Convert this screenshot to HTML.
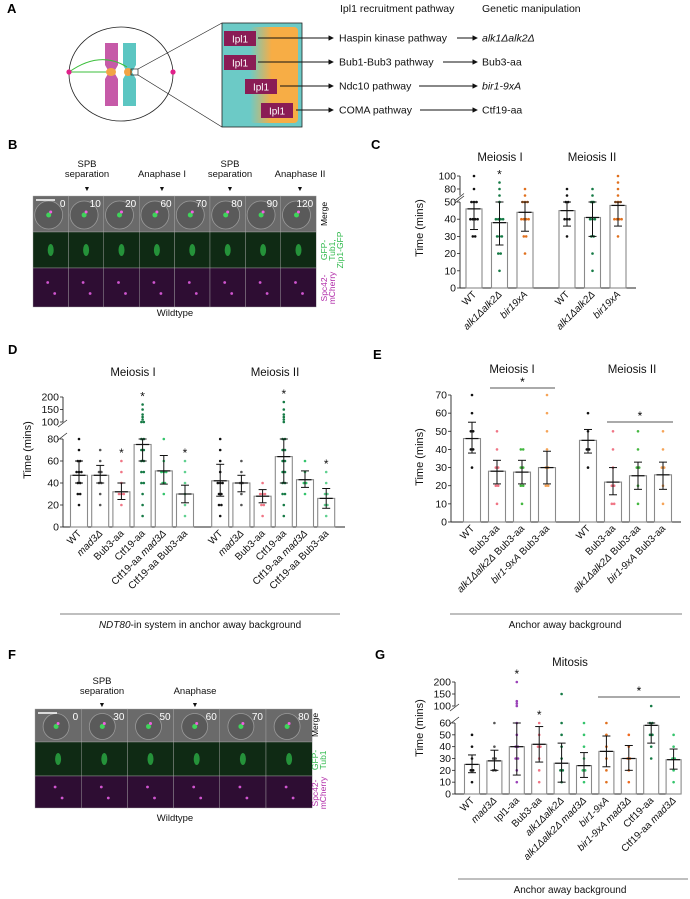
<!DOCTYPE html>
<html><head><meta charset="utf-8">
<style>
html,body{margin:0;padding:0;background:#fff;}
svg{display:block;font-family:"Liberation Sans",sans-serif;}
</style></head>
<body>
<svg id="fig" width="690" height="899" viewBox="0 0 690 899" xmlns="http://www.w3.org/2000/svg">
<defs>
<marker id="ah" markerWidth="6" markerHeight="6" refX="5" refY="3" orient="auto"><path d="M0,0 L6,3 L0,6 z" fill="#111"/></marker>
<linearGradient id="og" x1="0" x2="1"><stop offset="0" stop-color="#f7ad45" stop-opacity="0"/><stop offset="0.45" stop-color="#f7ad45"/><stop offset="1" stop-color="#f7ad45"/></linearGradient>
</defs>
<!-- Panel A -->
<g>
<text x="7" y="13" font-size="13" font-weight="bold">A</text>
<ellipse cx="121" cy="74" rx="52" ry="47" fill="none" stroke="#222" stroke-width="0.8"/>
<path d="M105,43 h13 v22 l-4,7 l4,7 v27 h-13 v-27 l4,-7 l-4,-7z" fill="#c65aa8"/>
<path d="M123,43 h13 v22 l-4,7 l4,7 v27 h-13 v-27 l4,-7 l-4,-7z" fill="#5cc6c2"/>
<path d="M69,72 Q100,50 127,67" fill="none" stroke="#3bbf3b" stroke-width="1"/>
<line x1="69" y1="72" x2="108" y2="72" stroke="#3bbf3b" stroke-width="1"/>
<ellipse cx="111" cy="72" rx="5" ry="4" fill="#f2a445"/><ellipse cx="128" cy="72" rx="4" ry="4" fill="#f2a445"/>
<circle cx="69" cy="72" r="2.6" fill="#e0208a"/>
<circle cx="173" cy="72" r="2.6" fill="#e0208a"/>
<rect x="131" y="69" width="7" height="6" fill="none" stroke="#222" stroke-width="0.7"/>
<line x1="138" y1="69" x2="222" y2="23" stroke="#222" stroke-width="0.7"/>
<line x1="138" y1="75" x2="222" y2="127" stroke="#222" stroke-width="0.7"/>
<rect x="222" y="23" width="80" height="104" fill="#6ccac6" stroke="#222" stroke-width="0.8"/>
<rect x="250" y="27" width="48" height="96" rx="4" fill="url(#og)"/>
<g font-size="10" fill="#fff" text-anchor="middle">
<rect x="224" y="31" width="32" height="15" fill="#8a1c55"/><text x="240" y="42.5">Ipl1</text>
<rect x="224" y="55" width="32" height="15" fill="#8a1c55"/><text x="240" y="66.5">Ipl1</text>
<rect x="245" y="79" width="32" height="15" fill="#8a1c55"/><text x="261" y="90.5">Ipl1</text>
<rect x="261" y="103" width="32" height="15" fill="#8a1c55"/><text x="277" y="114.5">Ipl1</text>
</g>
<g stroke="#111" stroke-width="0.9" marker-end="url(#ah)">
<line x1="258" y1="38" x2="333" y2="38"/><line x1="258" y1="62" x2="333" y2="62"/><line x1="280" y1="86" x2="333" y2="86"/><line x1="296" y1="110" x2="333" y2="110"/>
<line x1="457" y1="38" x2="477" y2="38"/><line x1="443" y1="62" x2="477" y2="62"/><line x1="419" y1="86" x2="477" y2="86"/><line x1="420" y1="110" x2="477" y2="110"/>
</g>
<g font-size="10.5" fill="#111">
<text x="340" y="12">Ipl1 recruitment pathway</text>
<text x="482" y="12">Genetic manipulation</text>
<text x="339" y="41.5">Haspin kinase pathway</text><text x="339" y="65.5">Bub1-Bub3 pathway</text><text x="339" y="89.5">Ndc10 pathway</text><text x="339" y="113.5">COMA pathway</text>
<text x="482" y="41.5" font-style="italic">alk1Δalk2Δ</text><text x="482" y="65.5">Bub3-aa</text><text x="482" y="89.5" font-style="italic">bir1-9xA</text><text x="482" y="113.5">Ctf19-aa</text>
</g>
</g>
<!-- Panel B -->
<g>
<text x="8" y="149" font-size="13" font-weight="bold">B</text>
<g font-size="9.5" text-anchor="middle" fill="#111">
<text x="87" y="167">SPB</text><text x="87" y="177">separation</text>
<text x="162" y="177">Anaphase I</text>
<text x="230" y="167">SPB</text><text x="230" y="177">separation</text>
<text x="300" y="177">Anaphase II</text>
<text x="87" y="191" font-size="7">▼</text><text x="162" y="191" font-size="7">▼</text><text x="230" y="191" font-size="7">▼</text><text x="300" y="191" font-size="7">▼</text>
<text x="175" y="316">Wildtype</text>
</g>
<g id="stripB"></g>
<g font-size="8.5">
<text transform="translate(327,214) rotate(-90)" text-anchor="middle">Merge</text>
<text transform="translate(327,250) rotate(-90)" text-anchor="middle" fill="#2db84a">GFP-</text>
<text transform="translate(335,250) rotate(-90)" text-anchor="middle" fill="#2db84a">Tub1,</text>
<text transform="translate(343,250) rotate(-90)" text-anchor="middle" fill="#2db84a">Zip1-GFP</text>
<text transform="translate(327,288) rotate(-90)" text-anchor="middle" fill="#b02aa8">Spc42-</text>
<text transform="translate(335,288) rotate(-90)" text-anchor="middle" fill="#b02aa8">mCherry</text>
</g>
</g>
<!-- Panel F -->
<g>
<text x="8" y="659" font-size="13" font-weight="bold">F</text>
<g font-size="9.5" text-anchor="middle" fill="#111">
<text x="102" y="684">SPB</text><text x="102" y="694">separation</text>
<text x="195" y="694">Anaphase</text>
<text x="102" y="707" font-size="7">▼</text><text x="195" y="707" font-size="7">▼</text>
<text x="175" y="821">Wildtype</text>
</g>
<g id="stripF"></g>
<g font-size="8.5">
<text transform="translate(318,725) rotate(-90)" text-anchor="middle">Merge</text>
<text transform="translate(318,760) rotate(-90)" text-anchor="middle" fill="#2db84a">GFP-</text>
<text transform="translate(326,760) rotate(-90)" text-anchor="middle" fill="#2db84a">Tub1</text>
<text transform="translate(318,793) rotate(-90)" text-anchor="middle" fill="#b02aa8">Spc42-</text>
<text transform="translate(326,793) rotate(-90)" text-anchor="middle" fill="#b02aa8">mCherry</text>
</g>
</g>
<g id="charts"></g>
<g font-size="13" font-weight="bold">
<text x="371" y="149">C</text>
<text x="8" y="354">D</text>
<text x="373" y="359">E</text>
<text x="375" y="659">G</text>
</g>
<g font-size="10" text-anchor="middle" fill="#111">
<line x1="60" y1="614" x2="340" y2="614" stroke="#555" stroke-width="0.8"/>
<text x="200" y="628"><tspan font-style="italic">NDT80</tspan>-in system in anchor away background</text>
<line x1="450" y1="614" x2="682" y2="614" stroke="#555" stroke-width="0.8"/>
<text x="565" y="628">Anchor away background</text>
<line x1="458" y1="879" x2="688" y2="879" stroke="#555" stroke-width="0.8"/>
<text x="570" y="893">Anchor away background</text>
</g>
</svg>
<script>
// ---------- Panel C data ----------
const cCats = ["WT","|alk1Δalk2Δ|","|bir19xA|","WT","|alk1Δalk2Δ|","|bir19xA|"];
const cMeans = [46,38,44,45,41,48];
const cErrLo = [34,25,33,36,30,36];
const cErrHi = [50,50,50,50,50,50];
const cDots = [[100,80,50,50,50,40,40,40,40,30,30],[90,80,70,60,50,40,40,40,40,30,30,30,20,20,10],[80,70,50,50,50,40,40,40,40,30,30,20],[80,70,50,50,40,40,40,30],[80,70,60,50,50,40,40,40,30,30,20,10],[100,90,80,70,60,50,50,50,40,40,40,40,30]];
const cTicks = [0,10,20,30,40,50,80,100];
const cStars = [1];
// ---------- Panel D data ----------
const dCats = ["WT","|mad3Δ|","Bub3-aa","Ctf19-aa","Ctf19-aa |mad3Δ|","Ctf19-aa Bub3-aa","WT","|mad3Δ|","Bub3-aa","Ctf19-aa","Ctf19-aa |mad3Δ|","Ctf19-aa Bub3-aa"];
const dMeans = [47,47,32,75,51,30,42,40,28,64,43,26];
const dErrLo = [40,40,25,60,39,22,28,32,22,40,36,17];
const dErrHi = [60,56,40,80,65,38,57,47,34,80,51,35];
const dDots = [[80,70,60,60,50,50,50,40,40,30,30,20],[70,60,50,50,40,40,30,20],[60,50,40,30,30,30,20],[170,150,130,120,110,100,100,80,80,70,70,60,60,50,50,40,40,30,20,10],[80,60,50,50,50,40,40,30],[60,50,40,30,20,10],[80,70,60,50,40,40,40,30,30,20,20,10],[60,50,40,40,30,20],[40,30,30,30,20,20,10],[180,150,130,120,110,100,80,80,70,70,60,60,50,50,40,40,30,30,20,10],[60,50,40,40,30],[50,40,30,30,20,20,10]];
const dTicks = [0,20,40,60,80,100,150,200];
const dStars = [2,3,5,9,11];
// ---------- Panel E data ----------
const eCats = ["WT","Bub3-aa","|alk1Δalk2Δ| Bub3-aa","|bir1-9xA| Bub3-aa","WT","Bub3-aa","|alk1Δalk2Δ| Bub3-aa","|bir1-9xA| Bub3-aa"];
const eMeans = [46,28,27.5,30,45,22,25.5,26];
const eErrLo = [38,21,21,21,38,15,18,18];
const eErrHi = [55,34,34,39,51,30,33,33];
const eDots = [[70,60,50,50,40,40,30],[50,40,30,30,20,20,10],[40,40,30,30,20,20,10],[70,60,50,40,30,30,20,20],[60,50,40,40,30],[50,40,30,20,20,10,10],[50,40,30,30,20,10],[50,40,30,30,20,10]];
const eTicks = [0,10,20,30,40,50,60,70];
// ---------- Panel G data ----------
const gCats = ["WT","|mad3Δ|","Ipl1-aa","Bub3-aa","|alk1Δalk2Δ|","|alk1Δalk2Δ mad3Δ|","|bir1-9xA|","|bir1-9xA mad3Δ|","Ctf19-aa","Ctf19-aa |mad3Δ|"];
const gMeans = [25,28,40,42,26,24,36,30,58,29];
const gErrLo = [18,20,16,27,10,14,23,20,43,21];
const gErrHi = [33,37,60,57,43,35,49,41,60,38];
const gDots = [[50,40,30,20,20,10],[60,40,30,30,20,20],[200,120,110,100,60,50,40,40,30,30,20,10],[60,50,40,40,30,20,10],[150,60,50,40,30,20,20,10],[60,50,40,30,20,20,10],[60,50,40,30,20,10],[50,40,30,30,20,10],[100,60,60,50,50,40,30],[50,40,30,30,20,10]];
const gTicks = [0,10,20,30,40,50,60,100,150,200];
const gStars = [2,3];

const NS = "http://www.w3.org/2000/svg";
function mk(tag, attrs, parent){const e=document.createElementNS(NS,tag);for(const k in attrs)e.setAttribute(k,attrs[k]);parent.appendChild(e);return e;}
function richText(el, s){s.split("|").forEach((p,i)=>{if(!p)return;const t=mk("tspan",{},el);if(i%2===1)t.setAttribute("font-style","italic");t.textContent=p;});}

const root = document.getElementById("charts");
function makeScale(segs){
  return function(v){let s=segs[segs.length-1];for(const sg of segs){if(v<=sg[1]){s=sg;break;}}
    if(v<segs[0][0]) s=segs[0];
    return s[2]+(v-s[0])*(s[3]-s[2])/(s[1]-s[0]);};
}
function drawChart(cfg){
  const g = mk("g",{},root);
  
  
  const y = makeScale(cfg.segs);
  const ax = cfg.ax, y0 = y(0);
  const segs = cfg.segs;
  segs.forEach((s,i)=>{
    const l = mk("line",{x1:ax,x2:ax,y1:s[2],y2:s[3],stroke:"#222","stroke-width":0.9},g);
    
    
  });
  for(let i=1;i<segs.length;i++){
    const yb=segs[i-1][3], yt=segs[i][2];
    mk("line",{x1:ax-5,y1:yb+1,x2:ax+4,y2:yb-6,stroke:"#222","stroke-width":0.7},g);
    mk("line",{x1:ax-5,y1:yt+5,x2:ax+4,y2:yt-2,stroke:"#222","stroke-width":0.7},g);
  }
  const xa = mk("line",{x1:ax,x2:cfg.axEnd,y1:y0,y2:y0,stroke:"#222","stroke-width":0.9},g);
  
  
  cfg.ticks.forEach(t=>{
    mk("line",{x1:ax-3,x2:ax,y1:y(t),y2:y(t),stroke:"#222","stroke-width":0.8},g);
    const tl = mk("text",{x:ax-4,y:y(t)+3.5,"font-size":10.5,"text-anchor":"end",fill:"#111"},g);
    
    
    tl.textContent=t;
  });
  const yt = mk("text",{transform:`translate(${cfg.ytx},${cfg.yty}) rotate(-90)`,"font-size":11,"text-anchor":"middle",fill:"#111"},g);
  
  
  yt.textContent="Time (mins)";
  cfg.cats.forEach((c,i)=>{
    const cx = cfg.xOf(i), w=cfg.bw, col=cfg.colors[i];
    const bar = mk("rect",{x:cx-w/2,y:y(cfg.means[i]),width:w,height:y0-y(cfg.means[i]),fill:"#fff",stroke:"#8a8a8a","stroke-width":1.1},g);
    
    
    const counts={};
    cfg.dots[i].forEach(v=>{counts[v]=(counts[v]||0)+1;});
    for(const v in counts){
      const n=counts[v];
      for(let k=0;k<n;k++){
        const dx=(k-(n-1)/2)*2.4;
        const d = mk("circle",{cx:cx+dx,cy:y(+v),r:1.3,fill:col},g);
        
        
      }
    }
    const lo=y(cfg.lo[i]), hi=y(cfg.hi[i]), m=y(cfg.means[i]);
    const eb = mk("line",{x1:cx,x2:cx,y1:lo,y2:hi,stroke:"#111","stroke-width":1},g);
    
    
    mk("line",{x1:cx-4,x2:cx+4,y1:lo,y2:lo,stroke:"#111","stroke-width":1},g);
    mk("line",{x1:cx-4,x2:cx+4,y1:hi,y2:hi,stroke:"#111","stroke-width":1},g);
    mk("line",{x1:cx-6.5,x2:cx+6.5,y1:m,y2:m,stroke:"#111","stroke-width":1.2},g);
    const xl = mk("text",{transform:`translate(${cx+3},${y0+7}) rotate(-45)`,"font-size":10,"text-anchor":"end",fill:"#111"},g);
    
    
    richText(xl,c);
  });
  (cfg.stars||[]).forEach(i=>{
    const top = Math.max(...cfg.dots[i]);
    const s = mk("text",{x:cfg.xOf(i),y:y(top)-4,"font-size":12,"text-anchor":"middle",fill:"#111"},g);
    
    
    s.textContent="*";
  });
  (cfg.titles||[]).forEach(t=>{
    const tt = mk("text",{x:t[1],y:t[2],"font-size":11.5,"text-anchor":"middle",fill:"#111"},g);
    
    
    tt.textContent=t[0];
  });
  (cfg.sig||[]).forEach(s=>{
    const l = mk("line",{x1:s[0],x2:s[1],y1:s[2],y2:s[2],stroke:"#555","stroke-width":0.9},g);
    
    
    const st = mk("text",{x:(s[0]+s[1])/2,y:s[2]-2,"font-size":12,"text-anchor":"middle"},g);
    
    
    st.textContent="*";
  });
}
const K="#111",DG="#157a45",OR="#e0701e",PK="#f07585",MG="#34c46c",LG="#5fd08f",LO="#f6a458",PU="#9a42b8";
drawChart({name:"panel-c-chart",cats:cCats,means:cMeans,lo:cErrLo,hi:cErrHi,dots:cDots,ticks:cTicks,stars:cStars,
  segs:[[0,50,288,202],[70,100,195.5,176]],ax:460,axEnd:636,bw:16,xOf:i=>474+i*25.5+(i>=3?16.5:0),
  colors:[K,DG,OR,K,DG,OR],ytx:423,yty:228,titles:[["Meiosis I",500,161],["Meiosis II",592,161]]});
drawChart({name:"panel-d-chart",cats:dCats,means:dMeans,lo:dErrLo,hi:dErrHi,dots:dDots,ticks:dTicks,stars:dStars,
  segs:[[0,80,527,439],[100,200,422,397]],ax:63,axEnd:345,bw:17,xOf:i=>79+i*21.2+(i>=6?14:0),
  colors:[K,"#555",PK,DG,MG,LG,K,"#555",PK,DG,MG,LG],ytx:31,yty:450,titles:[["Meiosis I",133,376],["Meiosis II",275,376]]});
drawChart({name:"panel-e-chart",cats:eCats,means:eMeans,lo:eErrLo,hi:eErrHi,dots:eDots,ticks:eTicks,
  segs:[[0,70,522,395]],ax:451,axEnd:681,bw:17,xOf:i=>472+i*25+(i>=4?16:0),
  colors:[K,PK,"#44b840",LO,K,PK,"#44b840",LO],ytx:423,yty:457,titles:[["Meiosis I",512,373],["Meiosis II",632,373]],
  sig:[[490,555,388],[607,673,422]]});
drawChart({name:"panel-g-chart",cats:gCats,means:gMeans,lo:gErrLo,hi:gErrHi,dots:gDots,ticks:gTicks,stars:gStars,
  segs:[[0,60,794,723],[100,200,706,682]],ax:455,axEnd:678,bw:15,xOf:i=>472+i*22.4,
  colors:[K,"#555",PU,PK,DG,MG,OR,"#f06a20",DG,MG],ytx:423,yty:728,titles:[["Mitosis",570,666]],
  sig:[[598,680,697]]});

function strip(id,x0,y0,w,rows,labels,name,cellR){
  const g=document.getElementById(id);
  
  
  const fills=["#6a6a6a","#0f2a14","#2e0d33"];
  let yy=y0;
  rows.forEach((h,r)=>{
    labels.forEach((lb,i)=>{
      const x=x0+i*w;
      mk("rect",{x:x,y:yy,width:w,height:h,fill:fills[r],stroke:"#aaa","stroke-width":0.4},g);
      const cx=x+w/2, cy=yy+h/2;
      if(r===0){mk("circle",{cx:cx-2,cy:cy+1,r:cellR,fill:"#5a5a5a",stroke:"#9a9a9a","stroke-width":0.8},g);
        mk("circle",{cx:cx-2,cy:cy+1,r:2.5,fill:"#3fd35a"},g);mk("circle",{cx:cx,cy:cy-2,r:1.5,fill:"#f060e0"},g);
        const t=mk("text",{x:x+w-3,y:yy+11,"font-size":10,"text-anchor":"end",fill:"#fff"},g);t.textContent=lb;}
      else if(r===1){mk("ellipse",{cx:cx,cy:cy,rx:3,ry:6,fill:"#2fbf4a",opacity:0.7},g);}
      else {mk("circle",{cx:cx-3,cy:cy-5,r:1.4,fill:"#d055d0"},g);mk("circle",{cx:cx+4,cy:cy+6,r:1.4,fill:"#d055d0"},g);}
    });
    yy+=h;
  });
  mk("line",{x1:x0+3,x2:x0+22,y1:y0+4,y2:y0+4,stroke:"#fff","stroke-width":1.5},g);
}
strip("stripB",33,196,35.4,[36,36,39],["0","10","20","60","70","80","90","120"],"microscopy-meiosis",14);
strip("stripF",35,709,46.2,[33,34,32],["0","30","50","60","70","80"],"microscopy-mitosis",13);
</script>
</body></html>
